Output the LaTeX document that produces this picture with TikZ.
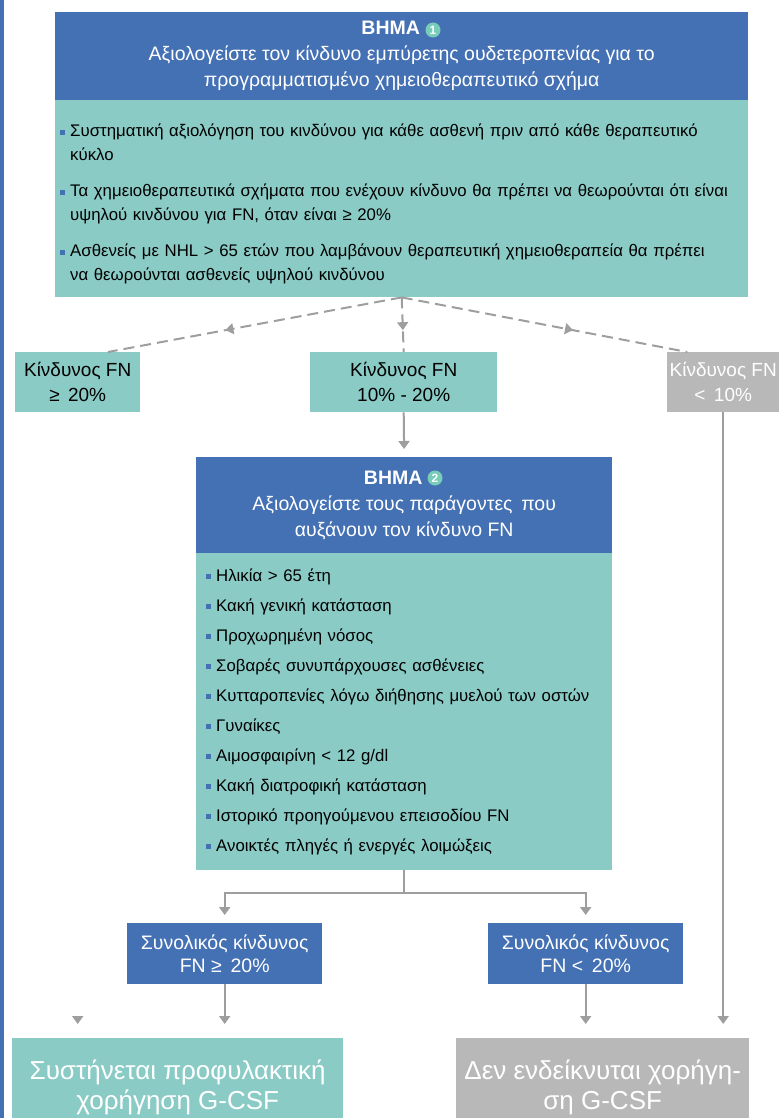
\documentclass[tikz,border=0pt]{standalone}
\usepackage{fontspec}
\setmainfont{Liberation Sans}
\usetikzlibrary{positioning}
\usetikzlibrary{arrows.meta}
\usetikzlibrary{decorations.markings}

\definecolor{stepblue}{RGB}{68,112,180}
\definecolor{stepteal}{RGB}{138,203,198}
\definecolor{stepgrey}{RGB}{184,184,184}
\definecolor{linegrey}{RGB}{158,158,158}
\definecolor{numteal}{RGB}{120,205,185}

\newcommand{\stepbul}{\textcolor{stepblue}{\rule[2pt]{5pt}{5pt}}\hspace{5pt}}

\begin{document}
\begin{tikzpicture}[x=1pt, y=-1pt,
    box/.style={rectangle, inner sep=0pt, anchor=north west, align=center},
    hdrbox/.style={box, fill=stepblue, text=white, font=\fontsize{19.5}{26}\selectfont},
    listbox/.style={box, fill=stepteal, align=left},
    riskbox/.style={box, fill=stepteal, minimum height=60pt, font=\fontsize{19}{25}\selectfont},
    totbox/.style={box, fill=stepblue, text=white, minimum width=195pt, minimum height=61pt, font=\fontsize{19.5}{23}\selectfont},
    resbox/.style={box, text=white, minimum height=98pt, font=\fontsize{26}{30}\selectfont},
    numdot/.style={circle, fill=numteal, text=white, inner sep=0pt, minimum size=15pt, font=\bfseries\fontsize{12}{12}\selectfont},
    link/.style={draw=linegrey, line width=2pt, -{Triangle[width=11pt,length=8pt]}, shorten >=8pt},
    dashlink/.style={draw=linegrey, line width=2pt, dash pattern=on 11pt off 6pt,
        postaction={decorate},
        decoration={markings, mark=at position 0.6 with {\arrow{Triangle[width=11pt,length=8pt]}}}},
]
    \clip (0,0) rectangle (779,1118);
    \fill[stepblue] (0,0) rectangle (4,1118);

    % step 1
    \node[hdrbox, minimum width=693pt, minimum height=88pt] (step1) at (55,12)
        {\textbf{ΒΗΜΑ}\hspace*{22pt}\\
         Αξιολογείστε τον κίνδυνο εμπύρετης ουδετεροπενίας για το\\
         προγραμματισμένο χημειοθεραπευτικό σχήμα};
    \node[numdot] (step1no) at (433,30) {1};
    \node[listbox, text width=683pt, inner xsep=5pt, minimum height=197pt,
        font=\fontsize{16.8}{24}\selectfont] (step1body) at (55,100)
        {\rule{0pt}{24pt}\stepbul Συστηματική αξιολόγηση του κινδύνου για κάθε ασθενή πριν από κάθε θεραπευτικό\\
         \hspace*{10pt}κύκλο\\[12pt]
         \stepbul Τα χημειοθεραπευτικά σχήματα που ενέχουν κίνδυνο θα πρέπει να θεωρούνται ότι είναι\\
         \hspace*{10pt}υψηλού κινδύνου για FN, όταν είναι ≥ 20\%\\[12pt]
         \stepbul Ασθενείς με NHL > 65 ετών που λαμβάνουν θεραπευτική χημειοθεραπεία θα πρέπει\\
         \hspace*{10pt}να θεωρούνται ασθενείς υψηλού κινδύνου};

    % risk levels
    \node[riskbox, minimum width=125pt] (riskhigh) at (15,352) {Κίνδυνος FN\\≥ \,20\%};
    \node[riskbox, minimum width=187pt] (riskmid) at (310,352) {Κίνδυνος FN\\10\% - 20\%};
    \node[riskbox, minimum width=112pt, fill=stepgrey, text=white] (risklow) at (667,352) {Κίνδυνος FN\\< \,10\%};

    % step 2
    \node[hdrbox, minimum width=416pt, minimum height=96pt] (step2) at (196,457)
        {\textbf{ΒΗΜΑ}\hspace*{22pt}\\
         Αξιολογείστε τους παράγοντες \,που\\
         αυξάνουν τον κίνδυνο FN};
    \node[numdot] (step2no) at (435,478) {2};
    \node[listbox, text width=396pt, inner xsep=10pt, minimum height=317pt,
        font=\fontsize{16.8}{30}\selectfont] (step2body) at (196,553)
        {\stepbul Ηλικία > 65 έτη\\
         \stepbul Κακή γενική κατάσταση\\
         \stepbul Προχωρημένη νόσος\\
         \stepbul Σοβαρές συνυπάρχουσες ασθένειες\\
         \stepbul Κυτταροπενίες λόγω διήθησης μυελού των οστών\\
         \stepbul Γυναίκες\\
         \stepbul Αιμοσφαιρίνη < 12 g/dl\\
         \stepbul Κακή διατροφική κατάσταση\\
         \stepbul Ιστορικό προηγούμενου επεισοδίου FN\\
         \stepbul Ανοικτές πληγές ή ενεργές λοιμώξεις};

    % overall risk
    \node[totbox] (tothigh) at (127,923) {Συνολικός κίνδυνος\\FN ≥ \,20\%};
    \node[totbox] (totlow) at (488,923) {Συνολικός κίνδυνος\\FN < \,20\%};

    % outcome
    \node[resbox, minimum width=331pt, fill=stepteal] (resyes) at (12,1038)
        {Συστήνεται προφυλακτική\\χορήγηση G-CSF};
    \node[resbox, minimum width=293pt, fill=stepgrey] (resno) at (456,1038)
        {Δεν ενδείκνυται χορήγη-\\ση G-CSF};

    \draw[dashlink] (step1body.south) -- (riskhigh.45);
    \draw[dashlink] (step1body.south) -- (riskmid.north);
    \draw[dashlink] (step1body.south) -- (risklow.140);

    \draw[link] (riskmid.south) -- (step2.north);
    \draw[link, shorten >=14pt] (risklow.south) -- (risklow.south |- resno.north);
    \draw[draw=white, line width=2pt, -{Triangle[width=11pt,length=8pt,color=linegrey]}, shorten >=14pt]
        (riskhigh.south) -- (riskhigh.south |- resyes.north);

    \draw[link] (step2body.south) -- ++(0,23) -| (tothigh.north);
    \draw[link] (step2body.south) -- ++(0,23) -| (totlow.north);
    \draw[link, shorten >=14pt] (tothigh.south) -- (tothigh.south |- resyes.north);
    \draw[link, shorten >=14pt] (totlow.south) -- (totlow.south |- resno.north);
\end{tikzpicture}
\end{document}
